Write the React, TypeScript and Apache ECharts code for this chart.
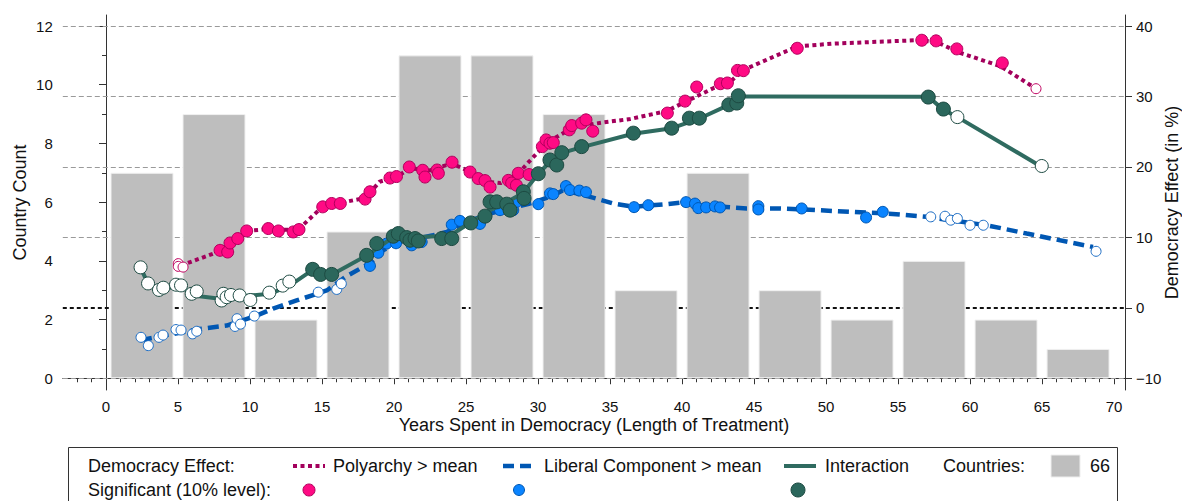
import React, { useEffect, useRef } from "react";
import * as echarts from "echarts";

// ---------- data ----------
const binCenters = [2.5, 7.5, 12.5, 17.5, 22.5, 27.5, 32.5, 37.5, 42.5, 47.5, 52.5, 57.5, 62.5, 67.5];
const countryCounts = [7, 9, 2, 5, 11, 11, 9, 3, 7, 3, 2, 4, 2, 1];

const xMajorTicks = [0, 5, 10, 15, 20, 25, 30, 35, 40, 45, 50, 55, 60, 65, 70];
const leftMajorTicks = [0, 2, 4, 6, 8, 10, 12];
const leftMinorTicks = [1, 3, 5, 7, 9, 11];
const rightTicks = [-10, 0, 10, 20, 30, 40];
const gridValues = [-10, 10, 20, 30, 40];

// Polyarchy > mean
const polyLine = [
  [5.2, 6.0], [8.0, 8.1], [9.8, 10.9], [11.3, 11.2], [13.3, 11.0], [15.0, 14.3], [16.3, 14.9],
  [18.0, 15.6], [19.0, 17.9], [20.2, 18.6], [21.1, 19.8], [22.5, 19.5], [24.0, 20.5], [25.3, 19.3],
  [26.5, 17.9], [27.4, 17.7], [28.6, 19.0], [29.4, 20.8], [30.6, 23.4], [32.5, 25.7], [34.5, 26.3],
  [36.4, 26.8], [38.9, 27.9], [40.8, 29.8], [42.2, 31.2], [43.3, 32.0], [44.3, 33.8], [48.0, 37.1],
  [50.5, 37.5], [56.5, 38.0], [57.7, 37.7], [59.3, 36.2], [62.1, 34.3], [64.6, 31.1],
];
const polySig = [
  [7.92, 8.16], [8.45, 7.92], [8.61, 9.2], [9.15, 9.83], [9.77, 10.91], [11.27, 11.25], [11.97, 10.91],
  [13.0, 10.77], [13.4, 11.11], [15.05, 14.33], [15.67, 14.81], [16.27, 14.81], [17.99, 15.43],
  [18.33, 16.47], [19.72, 18.42], [20.17, 18.63], [21.06, 19.99], [21.99, 19.52], [22.15, 18.56],
  [22.99, 19.56], [23.08, 19.09], [24.03, 20.67], [25.28, 19.27], [25.85, 18.35], [26.32, 18.06],
  [26.67, 17.14], [27.94, 18.09], [28.17, 17.71], [28.5, 17.4], [28.63, 19.09], [29.38, 18.92],
  [30.3, 22.88], [30.56, 23.83], [30.83, 23.36], [31.06, 23.45], [32.17, 25.26], [32.34, 25.87],
  [33.03, 26.21], [33.33, 26.68], [33.8, 25.07], [38.98, 27.64], [40.21, 29.34], [41.02, 31.34],
  [42.66, 31.81], [43.15, 31.91], [43.85, 33.7], [44.26, 33.66], [48.0, 36.84], [56.65, 37.98],
  [57.64, 37.89], [59.08, 36.75], [62.24, 34.76],
];
const polyNotSig = [[5.02, 6.27], [5.02, 5.88], [5.35, 5.78], [64.58, 31.1]];

// Liberal Component > mean
const libLine = [
  [2.43, -4.6], [3.9, -4.0], [6.53, -2.99], [8.38, -2.52], [10.47, -1.1], [11.6, -0.1], [13.24, 1.04],
  [15.33, 2.46], [16.72, 4.5], [18.3, 6.3], [19.24, 8.16], [20.42, 9.34], [22.71, 10.3], [23.66, 10.77],
  [25.05, 12.19], [26.67, 13.39], [29.44, 14.81], [30.83, 15.75], [31.76, 16.71], [33.61, 15.75],
  [35.23, 14.81], [36.62, 14.33], [38.94, 14.72], [40.33, 15.04], [42.17, 14.43], [44.49, 14.1],
  [46.81, 14.1], [49.35, 13.86], [54.2, 13.39], [56.99, 12.91], [61.16, 11.72], [63.94, 10.54],
  [68.54, 8.63],
];
const libSig = [
  [18.33, 5.95], [18.91, 7.81], [19.49, 9.12], [20.14, 9.16], [21.23, 8.87], [21.92, 9.34],
  [24.01, 11.8], [24.58, 12.34], [25.97, 11.91], [27.36, 13.86], [28.28, 13.86], [28.52, 15.04],
  [30.02, 14.71], [30.83, 16.24], [31.06, 16.14], [31.94, 17.28], [32.22, 16.71], [32.87, 16.64],
  [33.33, 16.42], [36.67, 14.29], [37.66, 14.57], [40.28, 15.0], [40.9, 14.79], [41.13, 14.15],
  [41.67, 14.25], [42.29, 14.39], [42.64, 14.25], [45.3, 14.43], [45.3, 13.96], [48.31, 14.1],
  [52.78, 12.82], [53.94, 13.62],
];
const libNotSig = [
  [2.43, -4.19], [2.94, -5.37], [3.68, -4.19], [3.96, -3.87], [4.86, -3.09], [5.21, -3.16],
  [6.01, -3.7], [6.3, -3.33], [8.96, -2.64], [9.1, -1.55], [9.34, -2.31], [10.3, -1.17],
  [14.74, 2.22], [16.02, 2.61], [16.34, 3.42], [57.27, 12.91], [58.26, 13.0], [58.66, 12.44],
  [59.12, 12.68], [60.0, 11.72], [60.92, 11.72], [68.75, 8.02],
];

// Interaction
const intLine = [
  [2.4, 5.7], [2.9, 3.5], [3.63, 2.46], [5.14, 3.18], [6.06, 1.75], [7.92, 1.28], [10.0, 1.75],
  [11.39, 1.99], [12.78, 3.18], [14.3, 5.3], [15.7, 4.74], [18.13, 7.45], [19.93, 10.0], [21.1, 10.0],
  [23.5, 10.2], [24.24, 10.7], [25.35, 12.15], [26.67, 13.86], [28.06, 15.28], [28.96, 16.3],
  [30.0, 19.0], [30.83, 20.7], [31.67, 22.0], [33.06, 22.8], [36.6, 24.7], [39.3, 25.5],
  [41.25, 26.9], [43.26, 28.8], [43.9, 30.0], [57.1, 29.95], [58.1, 28.2], [59.1, 27.1], [64.9, 20.1],
];
const intSig = [
  [14.35, 5.46], [14.9, 4.74], [15.67, 4.74], [18.1, 7.45], [18.8, 9.12], [19.95, 10.16], [20.3, 10.54],
  [20.88, 9.97], [21.11, 9.59], [21.46, 9.83], [21.69, 9.49], [23.31, 9.83], [24.01, 9.83],
  [25.33, 12.05], [26.32, 13.01], [26.67, 15.04], [27.13, 15.04], [27.83, 14.71], [28.06, 13.86],
  [28.98, 16.47], [29.03, 15.53], [30.02, 19.03], [30.83, 20.98], [31.3, 20.27], [31.65, 22.02],
  [33.03, 22.88], [36.62, 24.79], [39.28, 25.5], [40.51, 26.92], [41.2, 26.92], [43.25, 28.82],
  [43.8, 29.06], [43.91, 30.1], [57.1, 29.91], [58.15, 28.21],
];
const intNotSig = [
  [2.4, 5.74], [2.92, 3.46], [3.68, 2.54], [3.98, 2.85], [4.86, 3.28], [5.21, 3.18], [5.95, 1.99],
  [6.3, 2.32], [8.03, 1.04], [8.15, 1.99], [8.38, 1.51], [8.68, 1.82], [9.28, 1.75], [10.02, 1.11],
  [11.34, 2.15], [12.27, 3.15], [12.73, 3.72], [59.12, 27.07], [64.98, 20.13],
];

const legendTotal = "66";

// ---------- styles ----------
const FONT = '"Liberation Sans", Arial, Helvetica, sans-serif';
const PINK_LINE = "#a3005c";
const PINK_FILL = "#ff0a84";
const PINK_EDGE = "#b0005c";
const BLUE_LINE = "#0057b3";
const BLUE_FILL = "#0a84ff";
const BLUE_EDGE = "#0056b0";
const TEAL_LINE = "#2f6b60";
const TEAL_FILL = "#2b675c";
const TEAL_EDGE = "#1d4a42";
const AXIS = "#333";

const xMin = -3;
const xMax = 70.76;
const lMin = -0.4;
const lMax = 12.375;
const rMin = -10 + (lMin * 50) / 12;
const rMax = -10 + (lMax * 50) / 12;

const minus = (v: number) => (v < 0 ? "\u2212" + Math.abs(v) : String(v));

export default function App() {
  const ref = useRef<HTMLDivElement>(null);
  useEffect(() => {
    document.body.style.margin = "0";
    const chart = echarts.init(ref.current!, null, { renderer: "svg" });
    const xMinor: number[] = [];
    for (let v = -2; v <= 70; v++) if (v % 5 !== 0) xMinor.push(v);

    const tickLabel = { fontSize: 15, fontFamily: FONT, color: "#111" };

    const scatter = (data: number[][], size: number, fill: string, edge: string, z: number) => ({
      type: "scatter",
      xAxisIndex: 0,
      yAxisIndex: 2,
      data,
      symbol: "circle",
      symbolSize: size,
      itemStyle: { color: fill, borderColor: edge, borderWidth: 1, opacity: 1 },
      z,
      silent: true,
    });
    const line = (data: number[][], color: string, width: number, type: any, z: number) => ({
      type: "line",
      xAxisIndex: 0,
      yAxisIndex: 2,
      data,
      showSymbol: false,
      symbol: "none",
      lineStyle: { color, width, type, cap: "butt" },
      z,
      silent: true,
    });

    const legendText = (text: string, x: number, y: number) => ({
      type: "text",
      x,
      y,
      style: { text, fontSize: 18, fontFamily: FONT, fill: "#111", verticalAlign: "middle", align: "left" },
      z: 10,
    });

    chart.setOption({
      animation: false,
      backgroundColor: "#fff",
      grid: { left: 62.8, right: 57, top: 15, bottom: 111, containLabel: false, outerBoundsMode: "none" },
      xAxis: [
        {
          type: "value",
          min: xMin,
          max: xMax,
          position: "bottom",
          axisLine: { show: true, lineStyle: { color: AXIS, width: 1 } },
          axisTick: { show: true, length: 6, customValues: xMajorTicks, lineStyle: { color: AXIS } },
          axisLabel: { customValues: xMajorTicks, margin: 9, ...tickLabel },
          splitLine: { show: false },
          name: "Years Spent in Democracy (Length of Treatment)",
          nameLocation: "middle",
          nameGap: 26,
          nameMoveOverlap: false,
          nameTextStyle: { fontSize: 18, fontFamily: FONT, color: "#111" },
        },
        {
          type: "value",
          min: xMin,
          max: xMax,
          position: "bottom",
          axisLine: { show: false },
          axisTick: { show: true, length: 4, customValues: xMinor, lineStyle: { color: AXIS } },
          axisLabel: { show: false },
          splitLine: { show: false },
        },
      ],
      yAxis: [
        {
          type: "value",
          position: "left",
          min: lMin,
          max: lMax,
          axisLine: { show: true, lineStyle: { color: AXIS, width: 1 } },
          axisTick: { show: true, length: 7, customValues: leftMajorTicks, lineStyle: { color: AXIS } },
          axisLabel: { customValues: leftMajorTicks, margin: 10, ...tickLabel },
          splitLine: { show: false },
          name: "Country Count",
          nameLocation: "middle",
          nameGap: 34,
          nameMoveOverlap: false,
          nameTextStyle: { fontSize: 18, fontFamily: FONT, color: "#111" },
        },
        {
          type: "value",
          position: "left",
          min: lMin,
          max: lMax,
          axisLine: { show: false },
          axisTick: { show: true, length: 4, customValues: leftMinorTicks, lineStyle: { color: AXIS } },
          axisLabel: { show: false },
          splitLine: { show: false },
        },
        {
          type: "value",
          position: "right",
          min: rMin,
          max: rMax,
          axisLine: { show: true, lineStyle: { color: AXIS, width: 1 } },
          axisTick: { show: true, length: 7, customValues: rightTicks, lineStyle: { color: AXIS } },
          axisLabel: { customValues: rightTicks, margin: 11, formatter: minus, ...tickLabel },
          splitLine: { show: false },
          name: "Democracy Effect (in %)",
          nameLocation: "middle",
          nameGap: 38,
          nameMoveOverlap: false,
          nameTextStyle: { fontSize: 18, fontFamily: FONT, color: "#111" },
        },
      ],
      series: [
        {
          type: "line",
          xAxisIndex: 0,
          yAxisIndex: 2,
          data: [],
          silent: true,
          markLine: {
            silent: true,
            z: 1,
            symbol: ["none", "none"],
            label: { show: false },
            data: [
              ...gridValues.map((v) => ({
                yAxis: v,
                lineStyle: { color: "#9a9a9a", width: 1, type: [5, 3] },
              })),
              { yAxis: 0, lineStyle: { color: "#111", width: 2, type: [4, 3] } },
            ],
          },
        },
        {
          type: "bar",
          xAxisIndex: 0,
          yAxisIndex: 0,
          data: binCenters.map((c, i) => [c, countryCounts[i]]),
          barWidth: 63,
          itemStyle: { color: "#bebebe", borderColor: "#f0f0f0", borderWidth: 1 },
          z: 2,
          silent: true,
        },
        line(polyLine, PINK_LINE, 4, [4, 3.5], 3),
        scatter(polyNotSig, 10, "#fff", "#c0005f", 4),
        scatter(polySig, 12, PINK_FILL, PINK_EDGE, 4),
        line(libLine, BLUE_LINE, 4.5, [11, 6], 5),
        scatter(libNotSig, 10, "#fff", "#1b6cc4", 6),
        scatter(libSig, 11, BLUE_FILL, BLUE_EDGE, 6),
        line(intLine, TEAL_LINE, 4, "solid", 7),
        scatter(intNotSig, 13, "#fff", TEAL_EDGE, 8),
        scatter(intSig, 14, TEAL_FILL, TEAL_EDGE, 8),
      ],
      graphic: [
        {
          type: "rect",
          shape: { x: 68.5, y: 447.5, width: 1049, height: 70 },
          style: { fill: "#fff", stroke: "#333", lineWidth: 1 },
          z: 9,
        },
        legendText("Democracy Effect:", 88, 466),
        {
          type: "line",
          shape: { x1: 293, y1: 466, x2: 325, y2: 466 },
          style: { stroke: PINK_LINE, lineWidth: 4, lineDash: [4, 3.5] },
          z: 10,
        },
        legendText("Polyarchy > mean", 333, 466),
        {
          type: "line",
          shape: { x1: 503, y1: 466, x2: 535, y2: 466 },
          style: { stroke: BLUE_LINE, lineWidth: 4.5, lineDash: [11, 6] },
          z: 10,
        },
        legendText("Liberal Component > mean", 544, 466),
        {
          type: "line",
          shape: { x1: 784, y1: 466, x2: 816, y2: 466 },
          style: { stroke: TEAL_LINE, lineWidth: 4 },
          z: 10,
        },
        legendText("Interaction", 825, 466),
        legendText("Countries:", 943, 466),
        {
          type: "rect",
          shape: { x: 1051, y: 455, width: 29, height: 22 },
          style: { fill: "#bebebe", stroke: "#eeeeee", lineWidth: 1 },
          z: 10,
        },
        legendText(legendTotal, 1090, 466),
        legendText("Significant (10% level):", 88, 490),
        {
          type: "circle",
          shape: { cx: 309, cy: 490, r: 6 },
          style: { fill: PINK_FILL, stroke: PINK_EDGE, lineWidth: 1 },
          z: 10,
        },
        {
          type: "circle",
          shape: { cx: 519, cy: 490, r: 5.5 },
          style: { fill: BLUE_FILL, stroke: BLUE_EDGE, lineWidth: 1 },
          z: 10,
        },
        {
          type: "circle",
          shape: { cx: 798, cy: 490, r: 7 },
          style: { fill: TEAL_FILL, stroke: TEAL_EDGE, lineWidth: 1 },
          z: 10,
        },
      ],
    });
    return () => chart.dispose();
  }, []);
  return <div ref={ref} style={{ width: 1182, height: 501 }} />;
}
